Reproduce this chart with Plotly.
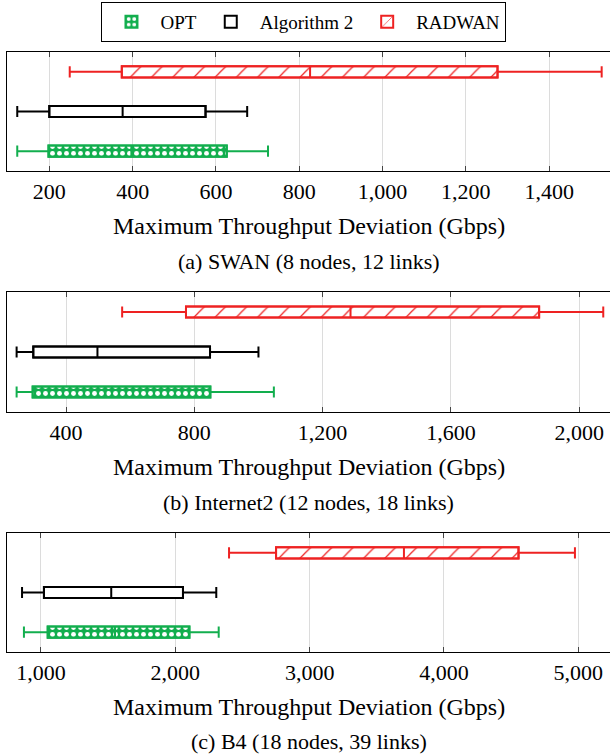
import plotly.graph_objects as go
from plotly.subplots import make_subplots

series = ["OPT", "Algorithm 2", "RADWAN"]
positions = [1, 2, 3]

# SWAN (8 nodes, 12 links)
swan_low = [123, 123, 249]
swan_q1 = [198, 200, 374]
swan_med = [397, 376, 826]
swan_q3 = [626, 575, 1276]
swan_high = [725, 675, 1526]

# Internet2 (12 nodes, 18 links)
i2_low = [246, 246, 575]
i2_q1 = [296, 298, 774]
i2_med = [523, 498, 1287]
i2_q3 = [850, 849, 1875]
i2_high = [1048, 1000, 2075]

# B4 (18 nodes, 39 links)
b4_low = [873, 859, 2400]
b4_q1 = [1050, 1022, 2750]
b4_med = [1551, 1523, 3702]
b4_q3 = [2105, 2057, 4555]
b4_high = [2323, 2305, 4975]

captions = ["(a) SWAN (8 nodes, 12 links)", "(b) Internet2 (12 nodes, 18 links)",
            "(c) B4 (18 nodes, 39 links)"]
axis_title = "Maximum Throughput Deviation (Gbps)"

panels = [
    (swan_low, swan_q1, swan_med, swan_q3, swan_high),
    (i2_low, i2_q1, i2_med, i2_q3, i2_high),
    (b4_low, b4_q1, b4_med, b4_q3, b4_high),
]
ranges = [[98.4, 1546], [216, 2096], [747, 5236]]
dticks = [200, 400, 1000]

GREEN = "#12AE4E"
RED = "#EE2222"
BLACK = "#000000"
colors = [GREEN, BLACK, RED]
patterns = [
    dict(shape=".", bgcolor=GREEN, fgcolor="white", size=7, solidity=0.38, fillmode="replace"),
    dict(shape=""),
    dict(shape="/", bgcolor="white", fgcolor=RED, size=15, solidity=0.08, fillmode="replace"),
]
fills = [GREEN, "white", "white"]

W, H = 610, 756
fig = make_subplots(rows=3, cols=1)

BOXW = 0.28
for p, (lo, q1, med, q3, hi) in enumerate(panels):
    row = p + 1
    for i, name in enumerate(series):
        fig.add_trace(go.Bar(
            y=[positions[i]], x=[q3[i] - q1[i]], base=[q1[i]], orientation="h",
            width=BOXW, name=name, legendgroup=name, showlegend=(p == 0),
            marker=dict(color=fills[i], pattern=patterns[i],
                        line=dict(color=colors[i], width=2)),
            hoverinfo="skip",
        ), row=row, col=1)
    for i, name in enumerate(series):
        fig.add_trace(go.Box(
            y=[positions[i]], q1=[q1[i]], median=[med[i]], q3=[q3[i]],
            lowerfence=[lo[i]], upperfence=[hi[i]], orientation="h",
            width=BOXW, whiskerwidth=1, boxpoints=False,
            fillcolor="rgba(0,0,0,0)", line=dict(color=colors[i], width=2),
            name=name, legendgroup=name, showlegend=False,
        ), row=row, col=1)

# panel domains in pixels (top, bottom)
pix = [(52, 171), (292, 412), (533, 652)]
for p in range(3):
    top, bot = pix[p]
    ax = "" if p == 0 else str(p + 1)
    fig.layout["yaxis" + ax].update(
        domain=[1 - bot / H, 1 - top / H], range=[0.5, 3.5],
        showticklabels=False, ticks="", showgrid=False, zeroline=False,
        showline=True, linecolor="black", linewidth=1.2, mirror=True)
    fig.layout["xaxis" + ax].update(
        domain=[0, 1], range=ranges[p], dtick=dticks[p], tick0=0,
        tickformat=",", ticks="inside", ticklen=5, tickwidth=1.2, tickcolor="#444",
        showgrid=True, gridcolor="#dcdcdc", gridwidth=1, zeroline=False,
        showline=True, linecolor="black", linewidth=1.2, mirror="ticks",
        tickfont=dict(family="Liberation Serif", size=22, color="black"))

annotations = []
title_y = [226, 467, 707]
cap_y = [262, 502, 741]
for p in range(3):
    annotations.append(dict(text=axis_title, xref="paper", yref="paper",
                            x=0.5, y=1 - title_y[p] / H, yanchor="middle", xanchor="center",
                            showarrow=False,
                            font=dict(family="Liberation Serif", size=24, color="black")))
    annotations.append(dict(text=captions[p], xref="paper", yref="paper",
                            x=0.5, y=1 - cap_y[p] / H, yanchor="middle", xanchor="center",
                            showarrow=False,
                            font=dict(family="Liberation Serif", size=22, color="black")))

fig.update_layout(
    width=W, height=H, margin=dict(l=7, r=0, t=0, b=0),
    plot_bgcolor="white", paper_bgcolor="white",
    barmode="overlay", boxmode="overlay",
    annotations=annotations,
    legend=dict(orientation="h", x=0.4925, xanchor="center", y=1 - 2 / H, yanchor="top",
                bordercolor="black", borderwidth=1, bgcolor="white",
                font=dict(family="Liberation Serif", size=19, color="black"),
                traceorder="normal", itemwidth=48),
    font=dict(family="Liberation Serif"),
)

fig.write_html("out.html", config={"displayModeBar": False},
               post_script="document.body.style.margin='0';document.body.style.overflow='hidden';")
